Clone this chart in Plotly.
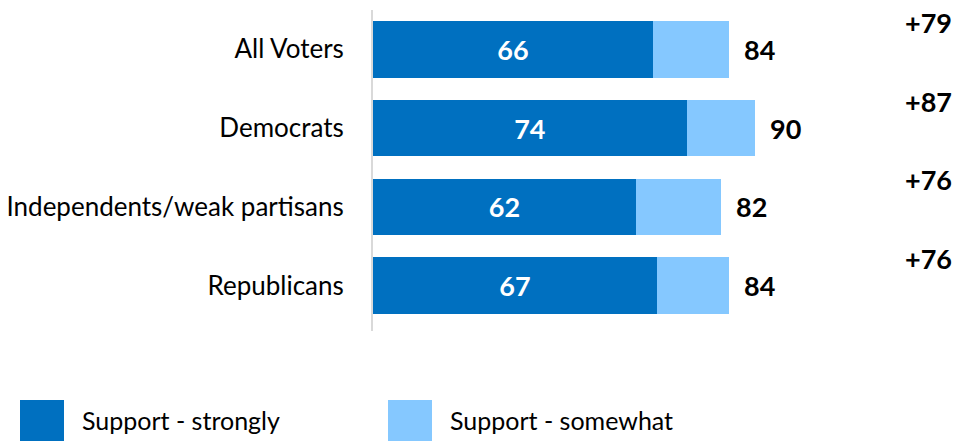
import plotly.graph_objects as go

categories = ["All Voters", "Democrats", "Independents/weak partisans", "Republicans"]
strongly = [66, 74, 62, 67]
somewhat = [18, 16, 20, 17]
totals = [84, 90, 82, 84]
net = ["+79", "+87", "+76", "+76"]
series_names = ["Support - strongly", "Support - somewhat"]

C_STRONG = "#0070C0"
C_SOME = "#85C8FF"
FONT = "Lato"

fig = go.Figure()
fig.add_trace(go.Bar(
    y=categories, x=strongly, orientation="h", name=series_names[0],
    marker=dict(color=C_STRONG, line=dict(width=0)),
    text=[str(v) for v in strongly], textposition="inside", insidetextanchor="middle",
    textfont=dict(color="white", size=27, family=FONT, weight="bold"),
    hoverinfo="skip", showlegend=False,
))
fig.add_trace(go.Bar(
    y=categories, x=somewhat, orientation="h", name=series_names[1],
    marker=dict(color=C_SOME, line=dict(width=0)),
    hoverinfo="skip", showlegend=False,
))

for cat, tot in zip(categories, totals):
    fig.add_annotation(x=tot, y=cat, text=f"<b>{tot}</b>", showarrow=False,
                       xanchor="left", xshift=13,
                       font=dict(size=27, color="black", family=FONT))
for cat, n in zip(categories, net):
    fig.add_annotation(x=131, y=cat, text=f"<b>{n}</b>", showarrow=False,
                       xanchor="center", yshift=27,
                       font=dict(size=27, color="black", family=FONT))

# legend drawn manually
legend_items = [(20, C_STRONG, series_names[0]), (388, C_SOME, series_names[1])]
W, H = 958, 442
T, B = 10, 111
PH = H - T - B
for px, col, name in legend_items:
    fig.add_shape(type="rect", xref="paper", yref="paper",
                  x0=(px - 373) / 585, x1=(px + 44 - 373) / 585,
                  y0=-(441 - (H - B)) / PH, y1=-(400 - (H - B)) / PH,
                  fillcolor=col, line=dict(width=0))
    fig.add_annotation(xref="paper", yref="paper", x=(px + 60 - 373) / 585,
                       y=-(420 - (H - B)) / PH, text=name, showarrow=False,
                       xanchor="left", yanchor="middle",
                       font=dict(size=25, color="black", family=FONT))

fig.update_layout(
    width=W, height=H,
    margin=dict(l=373, r=0, t=T, b=B),
    barmode="stack", bargap=0.285,
    plot_bgcolor="white", paper_bgcolor="white",
    font=dict(family=FONT, color="black"),
    xaxis=dict(range=[0, 138], visible=False, fixedrange=True),
    yaxis=dict(autorange="reversed", showline=True, linecolor="#d9d9d9", linewidth=2,
               ticks="", showgrid=False, ticklabelstandoff=22,
               tickfont=dict(size=26, color="black", family=FONT)),
)

fig.write_html("out.html")
